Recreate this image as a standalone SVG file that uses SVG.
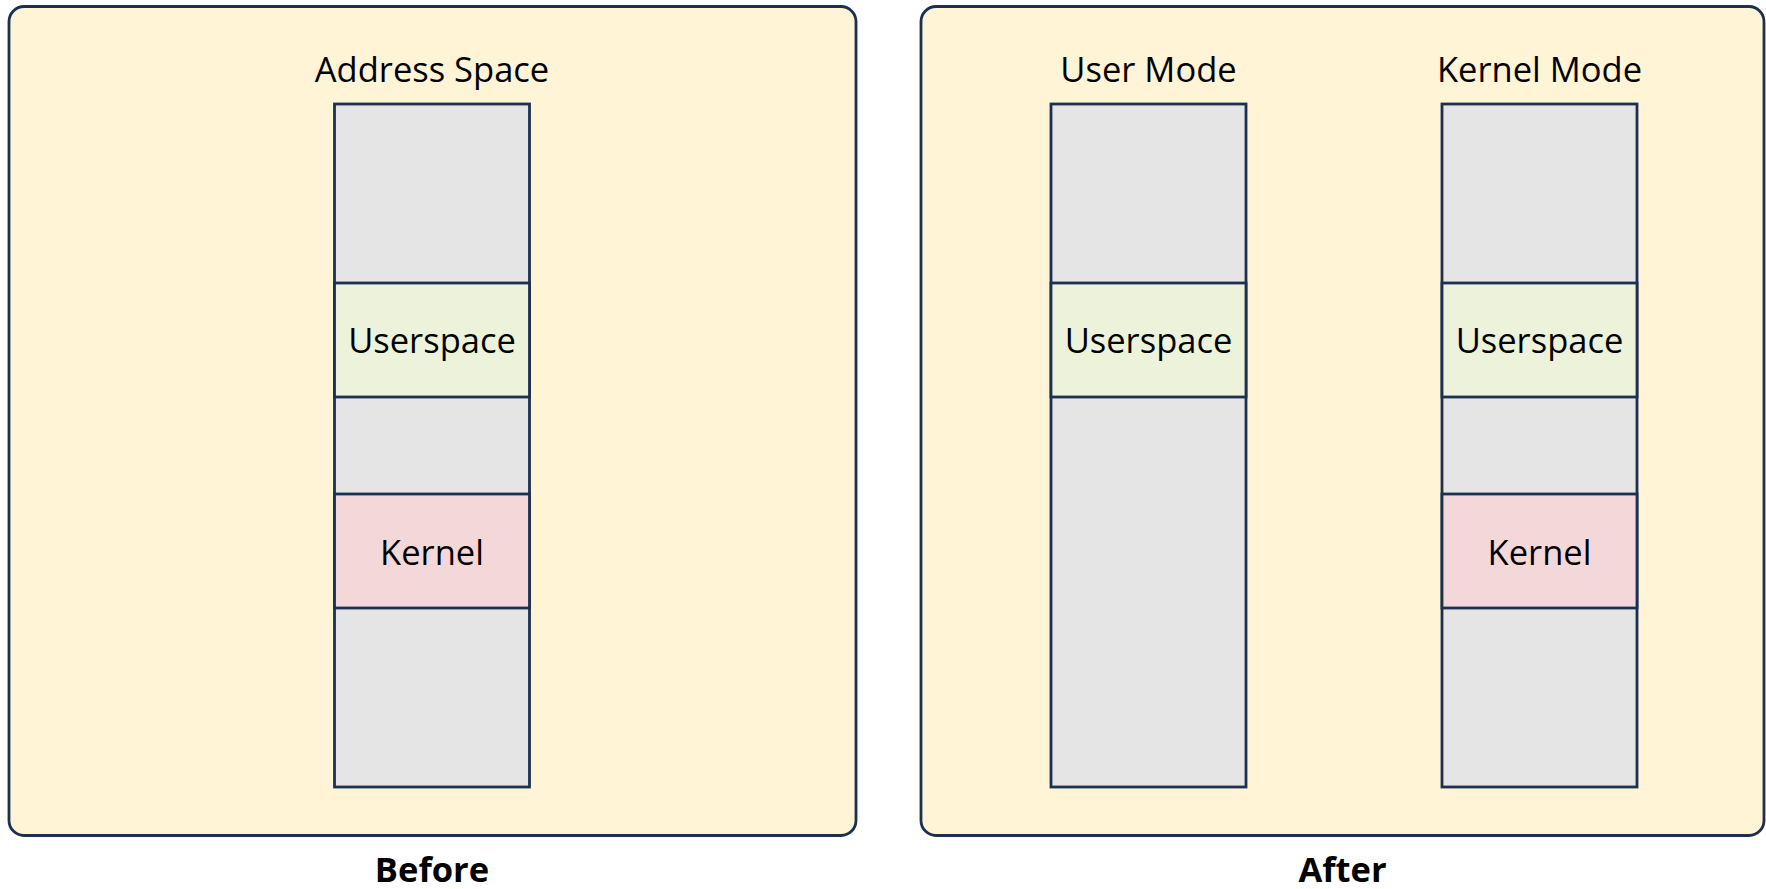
<svg xmlns="http://www.w3.org/2000/svg" width="1766" height="889" viewBox="0 0 1766 889">
  <style>
    .panel { fill: #fff4d6; stroke: #1c3052; stroke-width: 2.8; }
    .seg { stroke: #1c3052; stroke-width: 2.8; }
    .free { fill: #e5e5e5; }
    .user { fill: #edf3da; }
    .kern { fill: #f4d7d9; }
    .lbl { font-family: "Open Sans", "Noto Sans", sans-serif; font-size: 34.5px; fill: #000; text-anchor: middle; }
    .cap { font-family: "Open Sans", "Noto Sans", sans-serif; font-size: 34.5px; font-weight: bold; fill: #000; text-anchor: middle; }
  </style>
  <rect width="1766" height="889" fill="#ffffff"/>

  <!-- Before: single address space -->
  <g id="before-panel">
    <rect class="panel" x="9" y="6.5" width="847" height="829" rx="15"/>
    <text class="lbl" x="432" y="82">Address Space</text>
    <text class="cap" x="432" y="882">Before</text>
  </g>
  <g id="before-column">
    <rect class="seg free" x="334.5" y="104" width="195" height="683"/>
  </g>
  <g id="before-userspace">
    <rect class="seg user" x="334.5" y="283" width="195" height="114"/>
    <text class="lbl" x="432" y="353">Userspace</text>
  </g>
  <g id="before-kernel">
    <rect class="seg kern" x="334.5" y="494" width="195" height="114"/>
    <text class="lbl" x="432" y="565">Kernel</text>
  </g>

  <!-- After: separate user and kernel address spaces -->
  <g id="after-panel">
    <rect class="panel" x="921" y="6.5" width="843" height="829" rx="15"/>
    <text class="cap" x="1342.5" y="882">After</text>
  </g>
  <g id="user-mode-column">
    <text class="lbl" x="1148.5" y="82">User Mode</text>
    <rect class="seg free" x="1051" y="104" width="195" height="683"/>
  </g>
  <g id="user-mode-userspace">
    <rect class="seg user" x="1051" y="283" width="195" height="114"/>
    <text class="lbl" x="1148.5" y="353">Userspace</text>
  </g>
  <g id="kernel-mode-column">
    <text class="lbl" x="1539.5" y="82">Kernel Mode</text>
    <rect class="seg free" x="1442" y="104" width="195" height="683"/>
  </g>
  <g id="kernel-mode-userspace">
    <rect class="seg user" x="1442" y="283" width="195" height="114"/>
    <text class="lbl" x="1539.5" y="353">Userspace</text>
  </g>
  <g id="kernel-mode-kernel">
    <rect class="seg kern" x="1442" y="494" width="195" height="114"/>
    <text class="lbl" x="1539.5" y="565">Kernel</text>
  </g>

  <g id="connectors"></g>
</svg>
